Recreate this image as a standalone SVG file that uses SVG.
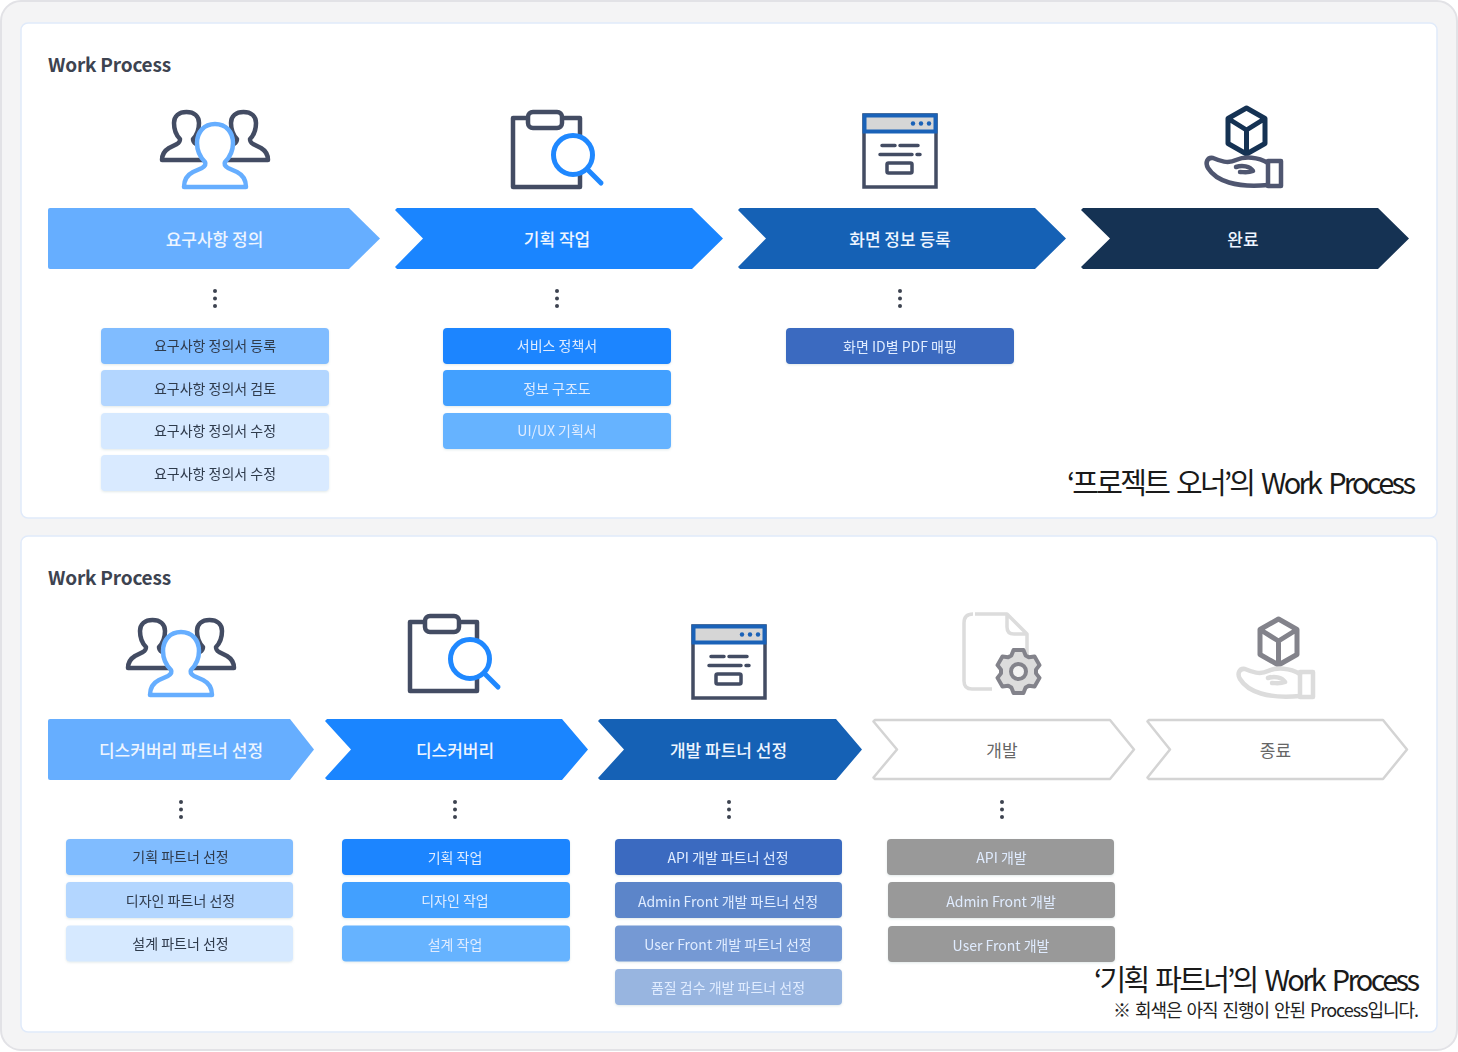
<svg xmlns="http://www.w3.org/2000/svg" xmlns:xlink="http://www.w3.org/1999/xlink" width="1458" height="1052" viewBox="0 0 1458 1052">
<style>
text{font-family:"Noto Sans CJK KR","Noto Sans",sans-serif}
.card{fill:#fff;stroke:#e0eafa;stroke-width:1.5}
.ttl{font-size:19px;font-weight:700;fill:#3d4350;letter-spacing:-.2px}
.hd{font-size:17px;font-weight:500;fill:#eef5ff;text-anchor:middle}
.hg{font-size:17px;font-weight:400;fill:#666;text-anchor:middle}
.it{font-size:14px;text-anchor:middle;fill:#2f3a4c}
.iw{font-size:14px;text-anchor:middle;fill:#e0ecff}
.ol{fill:#fff;stroke:#d4d4d4;stroke-width:2.5;stroke-linejoin:round}
.cap{font-size:29px;fill:#1a1a1a;word-spacing:4px;font-weight:400}
.note{font-size:18px;fill:#222;word-spacing:2px;font-weight:400}
.dot{fill:#3d4350}
</style>
<defs>
<filter id="sh" x="-5%" y="-20%" width="110%" height="140%"><feDropShadow dx="0" dy="1" stdDeviation="1" flood-color="#8aa" flood-opacity="0.25"/></filter>
<path id="side" d="M162 160c0-6 2-9 7-12l8-4c3-2 3-3 3-5c-4-4-6-9-6-16c0-7 5-11 12.500-11s12.500 4 12.500 11c0 7-2 12-6 16c0 2 0 3 3 5l8 4c5 3 7 6 7 12z" fill="#fff" stroke="#434c63" stroke-width="4.500" stroke-linejoin="round"/>
<g id="users">
<use xlink:href="#side"/>
<use xlink:href="#side" transform="translate(57 0)"/>
<path d="M184 187c0-8 3-12 9-15l9-4c3-2 4-4 3-6c-5-5-8-11-8-19c0-11 7-19 18-19s18 8 18 19c0 8-3 14-8 19c-1 2 0 4 3 6l9 4c6 3 9 7 9 15z" fill="#fff" stroke="#66aeff" stroke-width="4.500" stroke-linejoin="round"/>
</g>
<g id="clip">
<path d="M528 118H513V187H580V170" fill="none" stroke="#434c63" stroke-width="4.500" stroke-linejoin="round"/>
<path d="M562 118H580V135" fill="none" stroke="#434c63" stroke-width="4.500" stroke-linejoin="round"/>
<rect x="528" y="112" width="34" height="16" rx="5" fill="#fff" stroke="#434c63" stroke-width="4.500"/>
<circle cx="573" cy="155" r="19.500" fill="#fff" stroke="#1f88ff" stroke-width="5"/>
<path d="M588 170l13 13" stroke="#1f88ff" stroke-width="5" stroke-linecap="round"/>
</g>
<g id="win">
<rect x="864" y="115" width="72" height="72" fill="#fff" stroke="#434c63" stroke-width="3.500"/>
<rect x="864.500" y="115.500" width="71" height="16" fill="#d6d6d6" stroke="#1a62b8" stroke-width="4"/>
<circle cx="913" cy="123.500" r="2.200" fill="#1a62b8"/><circle cx="921" cy="123.500" r="2.200" fill="#1a62b8"/><circle cx="929" cy="123.500" r="2.200" fill="#1a62b8"/>
<path d="M882 145.500h13M900 145.500h18M880 154.500h32M917 154.500h3" stroke="#434c63" stroke-width="3.500" stroke-linecap="round"/>
<rect x="887" y="163" width="25" height="10" rx="1.500" fill="#fff" stroke="#434c63" stroke-width="3.500"/>
</g>
<path id="cube" d="M1246.500 108L1265 118.500V143.500L1246.500 154L1228 143.500V118.500ZM1228 118.500L1246.500 130L1265 118.500M1246.500 130V154" fill="none" stroke-width="5" stroke-linejoin="round"/>
<g id="hand" fill="none" stroke-width="4.500" stroke-linejoin="round" stroke-linecap="round">
<path d="M1268 163C1258 157 1245 156 1236 160C1228 164 1220 161 1213 158C1207 157 1205 163 1208 168C1216 181 1236 188 1268 185M1236 167C1242 165 1250 166 1253 171C1248 173 1244 172 1240 172"/>
<rect x="1268" y="161" width="13" height="25"/>
</g>
</defs>
<rect x="1" y="1" width="1456" height="1049" rx="20" fill="#f4f4f5" stroke="#e2e2e6" stroke-width="2"/>
<rect class="card" x="21" y="23" width="1416" height="495" rx="7"/>
<rect class="card" x="21" y="536" width="1416" height="496" rx="7"/>
<text class="ttl" x="48" y="72">Work Process</text>
<text class="ttl" x="48" y="585">Work Process</text>

<g id="connectors"></g>

<g id="icon-users-1"><use xlink:href="#users"/></g>
<g id="icon-clip-1"><use xlink:href="#clip"/></g>
<g id="icon-win-1"><use xlink:href="#win"/></g>
<g id="icon-hand-1"><use xlink:href="#cube" stroke="#153253"/><use xlink:href="#hand" stroke="#4f5670"/></g>

<g id="step-1-1"><path d="M50 208H349L380 238.500L349 269H50Q48 269 48 267V210Q48 208 50 208Z" fill="#66aeff"/><text class="hd" x="214.500" y="246">요구사항 정의</text></g>
<g id="step-1-2"><path d="M397 208H692L723 238.500L692 269H397L395 267L423 238.500L395 210Z" fill="#1a85ff"/><text class="hd" x="557" y="246">기획 작업</text></g>
<g id="step-1-3"><path d="M740 208H1035L1066 238.500L1035 269H740L738 267L766 238.500L738 210Z" fill="#1561b5"/><text class="hd" x="900" y="246">화면 정보 등록</text></g>
<g id="step-1-4"><path d="M1083 208H1378L1409 238.500L1378 269H1083L1081 267L1110 238.500L1081 210Z" fill="#153253"/><text class="hd" x="1243" y="246">완료</text></g>

<g class="dot" id="dots-1"><circle cx="215" cy="291" r="2"/><circle cx="215" cy="298.500" r="2"/><circle cx="215" cy="306" r="2"/><circle cx="557" cy="291" r="2"/><circle cx="557" cy="298.500" r="2"/><circle cx="557" cy="306" r="2"/><circle cx="900" cy="291" r="2"/><circle cx="900" cy="298.500" r="2"/><circle cx="900" cy="306" r="2"/></g>

<g id="item-1a" filter="url(#sh)"><rect x="101" y="328" width="228" height="36" rx="4" fill="#80bcff"/><text class="it" x="215" y="351">요구사항 정의서 등록</text></g>
<g id="item-1b" filter="url(#sh)"><rect x="101" y="370" width="228" height="36" rx="4" fill="#b3d6ff"/><text class="it" x="215" y="393.500">요구사항 정의서 검토</text></g>
<g id="item-1c" filter="url(#sh)"><rect x="101" y="413" width="228" height="36" rx="4" fill="#d6e9ff"/><text class="it" x="215" y="436">요구사항 정의서 수정</text></g>
<g id="item-1d" filter="url(#sh)"><rect x="101" y="455" width="228" height="36" rx="4" fill="#d9eaff"/><text class="it" x="215" y="478.500">요구사항 정의서 수정</text></g>
<g id="item-2a" filter="url(#sh)"><rect x="443" y="328" width="228" height="36" rx="4" fill="#1a85ff"/><text class="iw" x="557" y="351">서비스 정책서</text></g>
<g id="item-2b" filter="url(#sh)"><rect x="443" y="370" width="228" height="36" rx="4" fill="#42a0ff"/><text class="iw" x="557" y="393.500">정보 구조도</text></g>
<g id="item-2c" filter="url(#sh)"><rect x="443" y="413" width="228" height="36" rx="4" fill="#66b3ff"/><text class="iw" x="557" y="436">UI/UX 기획서</text></g>
<g id="item-3a" filter="url(#sh)"><rect x="786" y="328" width="228" height="36" rx="4" fill="#3a6bc0"/><text class="iw" x="900" y="352">화면 ID별 PDF 매핑</text></g>

<text class="cap" x="1067" y="494" textLength="349" lengthAdjust="spacing">‘프로젝트 오너’의 Work Process</text>

<g id="icon-users-2" transform="translate(-34 508)"><use xlink:href="#users"/></g>
<g id="icon-clip-2" transform="translate(-103 504)"><use xlink:href="#clip"/></g>
<g id="icon-win-2" transform="translate(-171 511)"><use xlink:href="#win"/></g>
<g id="icon-file-2">
<path d="M975 614H1007L1027 634V660M1007 615V627Q1007 634 1014 634H1026M992 689H972Q964 689 964 681V623Q964 614 973 614" fill="none" stroke="#dcdcdc" stroke-width="3.500" stroke-linejoin="round"/>
<path transform="translate(1018.500 671.500) scale(1.100)" d="M-6.500-14.600L-4.500-19.500H4.500L6.500-14.600L9.400-12.900L14.600-13.600L19.100-5.800L15.900-1.700V1.700L19.100 5.800L14.600 13.600L9.400 12.900L6.500 14.600L4.500 19.500H-4.500L-6.500 14.600L-9.400 12.900L-14.600 13.600L-19.100 5.800L-15.900 1.700V-1.700L-19.100-5.800L-14.600-13.600L-9.400-12.900Z" fill="#dcdcdc" stroke="#83838b" stroke-width="3.600" stroke-linejoin="round"/>
<circle cx="1018.500" cy="671.500" r="7.500" fill="#f2f2f2" stroke="#83838b" stroke-width="4"/>
</g>
<g id="icon-hand-2" transform="translate(32 511)"><use xlink:href="#cube" stroke="#83838b"/><use xlink:href="#hand" stroke="#dcdcdc"/></g>

<g id="step-2-1"><path d="M50 719H290L314 749.500L290 780H50Q48 780 48 778V721Q48 719 50 719Z" fill="#66aeff"/><text class="hd" x="181" y="757">디스커버리 파트너 선정</text></g>
<g id="step-2-2"><path d="M327 719H562L588 749.500L562 780H327L325 778L351 749.500L325 721Z" fill="#1a85ff"/><text class="hd" x="455" y="757">디스커버리</text></g>
<g id="step-2-3"><path d="M600 719H836L862 749.500L836 780H600L598 778L624 749.500L598 721Z" fill="#1561b5"/><text class="hd" x="728.500" y="757">개발 파트너 선정</text></g>
<g id="step-2-4"><path class="ol" d="M875 720H1110L1134 749.500L1110 779H875L873.500 777.500L897 749.500L873.500 721.500Z"/><text class="hg" x="1002" y="757">개발</text></g>
<g id="step-2-5"><path class="ol" d="M1149 720H1383L1407 749.500L1383 779H1149L1147.500 777.500L1170 749.500L1147.500 721.500Z"/><text class="hg" x="1275.500" y="757">종료</text></g>

<g class="dot" id="dots-2"><circle cx="181" cy="802" r="2"/><circle cx="181" cy="809.500" r="2"/><circle cx="181" cy="817" r="2"/><circle cx="455" cy="802" r="2"/><circle cx="455" cy="809.500" r="2"/><circle cx="455" cy="817" r="2"/><circle cx="729" cy="802" r="2"/><circle cx="729" cy="809.500" r="2"/><circle cx="729" cy="817" r="2"/><circle cx="1002" cy="802" r="2"/><circle cx="1002" cy="809.500" r="2"/><circle cx="1002" cy="817" r="2"/></g>

<g id="b1a" filter="url(#sh)"><rect x="66" y="839" width="227" height="36" rx="4" fill="#80bcff"/><text class="it" x="180.500" y="862">기획 파트너 선정</text></g>
<g id="b1b" filter="url(#sh)"><rect x="66" y="882" width="227" height="36" rx="4" fill="#b3d6ff"/><text class="it" x="180.500" y="905.500">디자인 파트너 선정</text></g>
<g id="b1c" filter="url(#sh)"><rect x="66" y="925.500" width="227" height="36" rx="4" fill="#d6e9ff"/><text class="it" x="180.500" y="949">설계 파트너 선정</text></g>
<g id="b2a" filter="url(#sh)"><rect x="342" y="839" width="228" height="36" rx="4" fill="#1a85ff"/><text class="iw" x="455" y="862.500">기획 작업</text></g>
<g id="b2b" filter="url(#sh)"><rect x="342" y="882" width="228" height="36" rx="4" fill="#42a0ff"/><text class="iw" x="455" y="906">디자인 작업</text></g>
<g id="b2c" filter="url(#sh)"><rect x="342" y="925.500" width="228" height="36" rx="4" fill="#66b3ff"/><text class="iw" x="455" y="950">설계 작업</text></g>
<g id="b3a" filter="url(#sh)"><rect x="615" y="839" width="227" height="36" rx="4" fill="#3a6bc0"/><text class="iw" x="728" y="862.500">API 개발 파트너 선정</text></g>
<g id="b3b" filter="url(#sh)"><rect x="615" y="882" width="227" height="36" rx="4" fill="#5b85c9"/><text class="iw" x="728" y="906.500">Admin Front 개발 파트너 선정</text></g>
<g id="b3c" filter="url(#sh)"><rect x="615" y="925.500" width="227" height="36" rx="4" fill="#7499d4"/><text class="iw" x="728" y="950">User Front 개발 파트너 선정</text></g>
<g id="b3d" filter="url(#sh)"><rect x="615" y="969" width="227" height="36" rx="4" fill="#98b5e0"/><text class="iw" x="728" y="993">품질 검수 개발 파트너 선정</text></g>
<g id="b4a" filter="url(#sh)"><rect x="887" y="839" width="227" height="36" rx="4" fill="#999"/><text class="iw" x="1001.500" y="862.500">API 개발</text></g>
<g id="b4b" filter="url(#sh)"><rect x="888" y="882" width="227" height="36" rx="4" fill="#999"/><text class="iw" x="1001" y="906.500">Admin Front 개발</text></g>
<g id="b4c" filter="url(#sh)"><rect x="888" y="926" width="227" height="36" rx="4" fill="#999"/><text class="iw" x="1001" y="951">User Front 개발</text></g>

<text class="cap" x="1094" y="991" textLength="326" lengthAdjust="spacing">‘기획 파트너’의 Work Process</text>
<text class="note" x="1113" y="1017" textLength="306" lengthAdjust="spacing">※ 회색은 아직 진행이 안된 Process입니다.</text>
</svg>
